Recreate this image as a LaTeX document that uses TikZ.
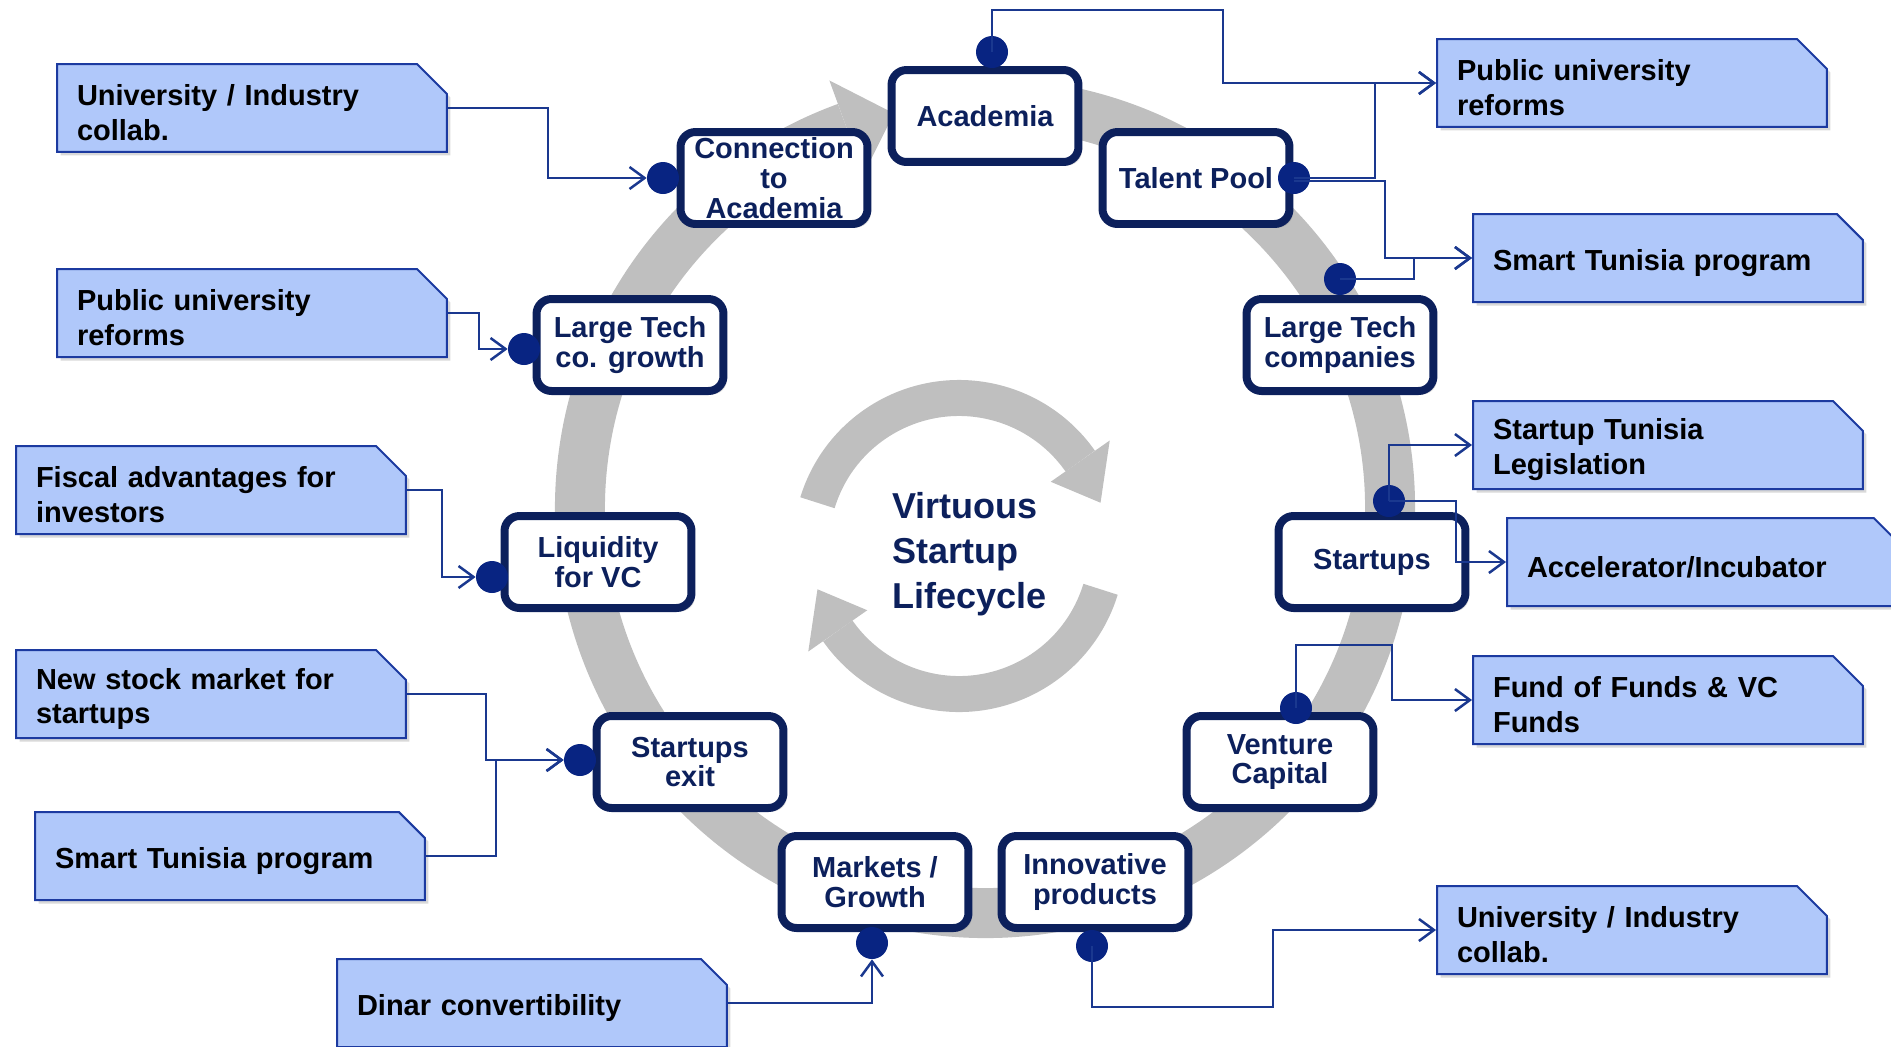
\documentclass[tikz,border=0pt]{standalone}
\usepackage{fontspec}
\setmainfont{Liberation Sans}
\usepackage{tikz}
\usetikzlibrary{calc, arrows.meta, shapes.misc, shadows}

\definecolor{navy}{RGB}{12,32,92}
\definecolor{dotblue}{RGB}{8,36,130}
\definecolor{linkblue}{RGB}{26,56,143}
\definecolor{notefill}{RGB}{176,200,250}
\definecolor{noteline}{RGB}{28,58,160}
\definecolor{ringgrey}{RGB}{191,191,191}

\tikzset{
    stage/.style={draw=navy, line width=0.16cm, rounded corners=0.3cm, fill=white,
        text=navy, font=\bfseries\fontsize{16.5}{17}\selectfont, align=center,
        minimum width=3.74cm, minimum height=1.84cm, inner sep=0pt,
        drop shadow={opacity=0.3, shadow xshift=0.07cm, shadow yshift=-0.07cm}},
    note/.style={chamfered rectangle, chamfered rectangle corners=north east,
        chamfered rectangle xsep=0.3cm, chamfered rectangle ysep=0.3cm,
        draw=noteline, line width=0.04cm, fill=notefill,
        font=\bfseries\fontsize{16.5}{19.9}\selectfont, align=left,
        text width=7.0cm, inner xsep=0.1cm, inner ysep=-0.15cm,
        minimum width=7.8cm, minimum height=1.76cm,
        execute at begin node={\rule{0pt}{0.62cm}},
        drop shadow={opacity=0.3, shadow xshift=0.07cm, shadow yshift=-0.07cm}},
    hub/.style={circle, fill=dotblue, minimum size=0.64cm, inner sep=0pt},
    link/.style={draw=linkblue, line width=0.05cm,
        -{Straight Barb[length=0.3cm, width=0.44cm]}},
}

\begin{document}
\begin{tikzpicture}[x=0.02cm, y=-0.02cm]
    \useasboundingbox (0,0) rectangle (1891,1046);

    % define cycle centres
    \coordinate (Ring_C) at (985,508);
    \coordinate (Cycle_C) at (959,546);

    % draw outer ring
    \draw[ringgrey, line width=1cm] ([shift={(-80:405)}]Ring_C)
        arc[start angle=-80, end angle=250, radius=405];
    \fill[ringgrey] ([shift={(250:455)}]Ring_C) -- ([shift={(257:405)}]Ring_C)
        -- ([shift={(250:355)}]Ring_C) -- cycle;

    % draw inner cycle
    \draw[ringgrey, line width=0.72cm] ([shift={(197:148)}]Cycle_C)
        arc[start angle=197, end angle=325, radius=148];
    \fill[ringgrey] ([shift={(325:184)}]Cycle_C) -- ([shift={(343:148)}]Cycle_C)
        -- ([shift={(325:112)}]Cycle_C) -- cycle;
    \draw[ringgrey, line width=0.72cm] ([shift={(17:148)}]Cycle_C)
        arc[start angle=17, end angle=145, radius=148];
    \fill[ringgrey] ([shift={(145:184)}]Cycle_C) -- ([shift={(163:148)}]Cycle_C)
        -- ([shift={(145:112)}]Cycle_C) -- cycle;

    \node (Cycle_txt) at (892,554) [anchor=west, inner sep=0pt, align=left, text=navy,
        font=\bfseries\fontsize{20.5}{25.6}\selectfont] {Virtuous\\Startup\\Lifecycle};

    % define stages
    \coordinate (Academia) at (985,116);
    \coordinate (Connection) at (774,178);
    \coordinate (Talent) at (1196,178);
    \coordinate (LT_growth) at (630,345);
    \coordinate (LT_companies) at (1340,345);
    \coordinate (Liquidity) at (598,562);
    \coordinate (Startups) at (1372,562);
    \coordinate (Exit) at (690,762);
    \coordinate (VC) at (1280,762);
    \coordinate (Markets) at (875,882);
    \coordinate (Innovative) at (1095,882);

    % draw stages
    \node (Academia_box) at (Academia) [stage] {Academia};
    \node (Connection_box) at (Connection) [stage] {Connection\\to\\Academia};
    \node (Talent_box) at (Talent) [stage] {Talent Pool};
    \node (LT_growth_box) at (LT_growth) [stage] {Large Tech\\co. growth};
    \node (LT_companies_box) at (LT_companies) [stage] {Large Tech\\companies};
    \node (Liquidity_box) at (Liquidity) [stage] {Liquidity\\for VC};
    \node (Startups_box) at (Startups) [stage] {Startups};
    \node (Exit_box) at (Exit) [stage] {Startups\\exit};
    \node (VC_box) at (VC) [stage] {Venture\\Capital};
    \node (Markets_box) at (Markets) [stage] {Markets /\\Growth};
    \node (Innovative_box) at (Innovative) [stage] {Innovative\\products};

    % dots on the stages
    \node (Academia_dot) at ([shift={(7,-64)}]Academia) [hub] {};
    \node (Connection_dot) at ([shift={(-111,0)}]Connection) [hub] {};
    \node (Talent_dot) at ([shift={(98,0)}]Talent) [hub] {};
    \node (LT_growth_dot) at ([shift={(-106,4)}]LT_growth) [hub] {};
    \node (LT_companies_dot) at ([shift={(0,-66)}]LT_companies) [hub] {};
    \node (Liquidity_dot) at ([shift={(-106,15)}]Liquidity) [hub] {};
    \node (Startups_dot) at ([shift={(17,-61)}]Startups) [hub] {};
    \node (Exit_dot) at ([shift={(-110,-2)}]Exit) [hub] {};
    \node (VC_dot) at ([shift={(16,-54)}]VC) [hub] {};
    \node (Markets_dot) at ([shift={(-3,61)}]Markets) [hub] {};
    \node (Innovative_dot) at ([shift={(-3,64)}]Innovative) [hub] {};

    % define notes
    \coordinate (Collab_L) at (252,108);
    \coordinate (Reforms_L) at (252,313);
    \coordinate (Fiscal) at (211,490);
    \coordinate (Stock) at (211,694);
    \coordinate (Smart_L) at (230,856);
    \coordinate (Dinar) at (532,1003);
    \coordinate (Reforms_R) at (1632,83);
    \coordinate (Smart_R) at (1668,258);
    \coordinate (Legislation) at (1668,445);
    \coordinate (Accelerator) at (1702,562);
    \coordinate (Funds) at (1668,700);
    \coordinate (Collab_R) at (1632,930);

    % draw notes
    \node (Collab_L_note) at (Collab_L) [note] {University / Industry\\collab.};
    \node (Reforms_L_note) at (Reforms_L) [note] {Public university\\reforms};
    \node (Fiscal_note) at (Fiscal) [note] {Fiscal advantages for\\investors};
    \node (Stock_note) at (Stock) [note] {New stock market for\\startups};
    \node (Smart_L_note) at (Smart_L) [note] {Smart Tunisia program};
    \node (Dinar_note) at (Dinar) [note] {Dinar convertibility};
    \node (Reforms_R_note) at (Reforms_R) [note] {Public university\\reforms};
    \node (Smart_R_note) at (Smart_R) [note] {Smart Tunisia program};
    \node (Legislation_note) at (Legislation) [note] {Startup Tunisia\\Legislation};
    \node (Accelerator_note) at (Accelerator) [note] {Accelerator/Incubator};
    \node (Funds_note) at (Funds) [note] {Fund of Funds \& VC\\Funds};
    \node (Collab_R_note) at (Collab_R) [note] {University / Industry\\collab.};

    % links into the cycle
    \draw[link] (Collab_L_note.east) -- ++(100,0) |- (Connection_dot.west);
    \draw[link] (Reforms_L_note.east) -- ++(31,0) |- (LT_growth_dot.west);
    \draw[link] (Fiscal_note.east) -- ++(35,0) |- (Liquidity_dot.west);
    \draw[link] (Stock_note.east) -- ++(79,0) |- (Exit_dot.west);
    \draw[link] (Smart_L_note.east) -- ++(70,0) |- (Exit_dot.west);
    \draw[link] (Dinar_note.east) -| (Markets_dot.south);

    % links out of the cycle
    \draw[link] (Academia_dot.center) -- ++(0,-42) -- ++(231,0) |- (Reforms_R_note.west);
    \draw[link] (Talent_dot.center) -- ++(81,0) |- (Reforms_R_note.west);
    \draw[link] ([yshift=-0.06cm]Talent_dot.center) -- ++(91,0) |- (Smart_R_note.west);
    \draw[link] (LT_companies_dot.center) -- ++(74,0) |- (Smart_R_note.west);
    \draw[link] (Startups_dot.center) |- (Legislation_note.west);
    \draw[link] (Startups_dot.center) -- ++(67,0) |- (Accelerator_note.west);
    \draw[link] (VC_dot.center) -- ++(0,-63) -- ++(96,0) |- (Funds_note.west);
    \draw[link] (Innovative_dot.center) -- ++(0,61) -- ++(181,0) |- (Collab_R_note.west);
\end{tikzpicture}
\end{document}
